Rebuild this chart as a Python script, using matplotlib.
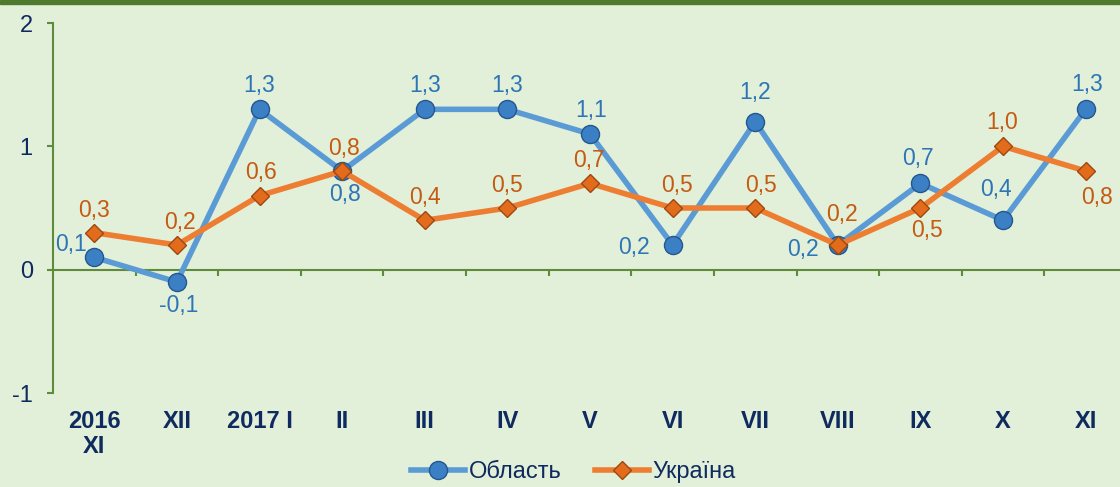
import matplotlib.pyplot as plt
from matplotlib.lines import Line2D

plt.rcParams['font.family'] = ['Liberation Sans', 'DejaVu Sans']

months = ['2016\nXI', 'XII', '2017 I', 'II', 'III', 'IV', 'V',
          'VI', 'VII', 'VIII', 'IX', 'X', 'XI']
oblast = [0.1, -0.1, 1.3, 0.8, 1.3, 1.3, 1.1, 0.2, 1.2, 0.2, 0.7, 0.4, 1.3]
ukraine = [0.3, 0.2, 0.6, 0.8, 0.4, 0.5, 0.7, 0.5, 0.5, 0.2, 0.5, 1.0, 0.8]

# label placement (offset in points) for each series
oblast_off = [(-17, 9), (1.5, -17), (0, 17), (2, -17), (0, 17), (0, 17), (1, 17),
              (-28, -2), (0, 21), (-25, -3), (-2, 18), (-5, 22), (1, 18)]
ukraine_off = [(0, 16), (2, 16), (1, 16.5), (1, 16.5), (0, 16.5), (0, 16.5), (-1, 16.5),
               (3, 16.5), (4, 16.5), (3, 22), (5, -16.5), (-1, 17), (8, -19)]

bg = '#e2efd9'
green = '#5e8c3a'
navy = '#0f2a5e'
blue_line = '#5b9bd5'
orange_line = '#ed7d31'

fig = plt.figure(figsize=(11.2, 4.87), dpi=100, facecolor=bg)
ax = fig.add_axes([53 / 1120, 1 - 393 / 487, 1074 / 1120, 370 / 487])
ax.set_facecolor(bg)

# dark band along the top edge
fig.add_artist(plt.Rectangle((0, 1 - 4 / 487), 1, 4 / 487, transform=fig.transFigure,
                             color='#4f7a2e', zorder=10))

x = list(range(len(months)))
ax.plot(x, oblast, color=blue_line, lw=4, marker='o', ms=13,
        mfc='#3b7fc4', mec='#24578f', mew=1, zorder=3)
ax.plot(x, ukraine, color=orange_line, lw=4, marker='D', ms=9,
        mfc='#e26b1c', mec='#9c4810', mew=1, zorder=4)

def fmt(v):
    return f'{v:.1f}'.replace('.', ',')

for i, v in enumerate(oblast):
    ax.annotate(fmt(v), (i, v), xytext=oblast_off[i], textcoords='offset points',
                ha='center', va='center', color='#2e75b6', fontsize=16.5)
for i, v in enumerate(ukraine):
    ax.annotate(fmt(v), (i, v), xytext=ukraine_off[i], textcoords='offset points',
                ha='center', va='center', color='#c55a11', fontsize=16.5)

ax.set_xlim(-0.5, len(months) - 0.5)
ax.set_ylim(-1, 2)
ax.set_yticks([-1, 0, 1, 2])
ax.set_yticklabels(['-1', '0', '1', '2'])
ax.tick_params(axis='y', colors=green, length=4.5, width=1.5, labelcolor=navy,
               labelsize=17, pad=10)

for s in ['top', 'right']:
    ax.spines[s].set_visible(False)
ax.spines['left'].set_color(green)
ax.spines['left'].set_linewidth(1.5)
ax.spines['bottom'].set_position(('data', 0))
ax.spines['bottom'].set_color(green)
ax.spines['bottom'].set_linewidth(1.5)

# tick marks between categories on the zero line, names below the plot
ax.set_xticks([i + 0.5 for i in x[:-1]])
ax.set_xticklabels([])
ax.tick_params(axis='x', colors=green, length=4.5, width=1.5, direction='out')
for i, m in enumerate(months):
    ax.text(i, -1.14, m, transform=ax.transData, ha='center', va='top',
            fontsize=17, fontweight='bold', color=navy, linespacing=1.12)

handles = [
    Line2D([], [], color=blue_line, lw=4, marker='o', ms=13,
           mfc='#3b7fc4', mec='#24578f'),
    Line2D([], [], color=orange_line, lw=4, marker='D', ms=9,
           mfc='#e26b1c', mec='#9c4810'),
]
fig.legend(handles, ['Область', 'Україна'], loc='center',
           bbox_to_anchor=(0.512, 1 - 472 / 487), ncol=2, frameon=False,
           fontsize=17, labelcolor=navy, handlelength=2.3, handletextpad=0.15,
           columnspacing=1.4)

fig.savefig('out.png', dpi=100, facecolor=bg)
